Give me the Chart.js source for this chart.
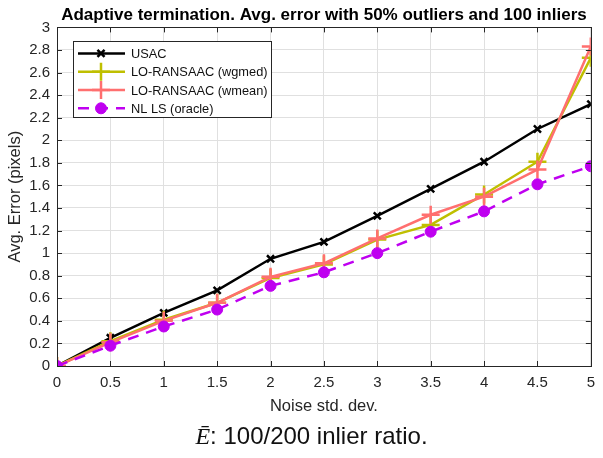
<!DOCTYPE html>
<html>
<head>
<meta charset="utf-8">
<script src="https://cdn.jsdelivr.net/npm/chart.js@4/dist/chart.umd.min.js"></script>
<style>
  html, body { margin: 0; padding: 0; background: #fff; }
  #wrap { position: relative; width: 603px; height: 458px; }
  #caption {
    position: absolute; left: 10px; width: 603px; top: 422px;
    text-align: center; font: 24px "Liberation Sans", Arial, sans-serif; color: #111;
  }
  #caption i { font-family: "Liberation Serif", serif; }
</style>
</head>
<body>
<div id="wrap">
  <canvas id="c" width="603" height="458"></canvas>
  <div id="caption"><i>&#274;</i>: 100/200 inlier ratio.</div>
</div>
<script>
// ── data ─────────────────────────────
const noise     = [0, 0.5, 1, 1.5, 2, 2.5, 3, 3.5, 4, 4.5, 5];
const usac      = [0, 0.25, 0.47, 0.67, 0.95, 1.10, 1.33, 1.57, 1.81, 2.10, 2.32];
const loWgmed   = [0, 0.22, 0.41, 0.56, 0.78, 0.90, 1.12, 1.25, 1.52, 1.81, 2.73];
const loWmean   = [0, 0.21, 0.40, 0.56, 0.79, 0.91, 1.13, 1.34, 1.50, 1.74, 2.83];
const nlls      = [0, 0.18, 0.35, 0.50, 0.71, 0.83, 1.00, 1.19, 1.37, 1.61, 1.77];
const seriesNames = ['USAC', 'LO-RANSAAC (wgmed)', 'LO-RANSAAC (wmean)', 'NL LS (oracle)'];
const xTicks = { min: 0, max: 5, step: 0.5 };
const yTicks = { min: 0, max: 3, step: 0.2 };

const FONT = '"Liberation Sans", Arial, Helvetica, sans-serif';
const AXIS = '#262626';

const pts = ys => ys.map((y, i) => ({ x: noise[i], y }));

// MATLAB-like box with inward ticks + legend inside the axes
const boxPlugin = {
  id: 'box',
  afterLayout(chart) {
    // centre the title over the axes, like MATLAB
    const tb = chart.titleBlock;
    if (tb) { tb.left = chart.chartArea.left; tb.right = chart.chartArea.right; }
  },
  afterDatasetsDraw(chart) {
    const { ctx, chartArea: a, scales: { x, y } } = chart;
    ctx.save();
    ctx.strokeStyle = AXIS;
    ctx.lineWidth = 1;
    ctx.beginPath();
    x.ticks.forEach(t => {
      const px = Math.round(x.getPixelForValue(t.value)) + 0.5;
      ctx.moveTo(px, a.bottom); ctx.lineTo(px, a.bottom - 5);
      ctx.moveTo(px, a.top);    ctx.lineTo(px, a.top + 5);
    });
    y.ticks.forEach(t => {
      const py = Math.round(y.getPixelForValue(t.value)) + 0.5;
      ctx.moveTo(a.left, py);  ctx.lineTo(a.left + 5, py);
      ctx.moveTo(a.right, py); ctx.lineTo(a.right - 5, py);
    });
    ctx.stroke();
    ctx.strokeRect(Math.round(a.left) + 0.5, Math.round(a.top) + 0.5,
                   Math.round(a.right - a.left), Math.round(a.bottom - a.top));

    // legend
    const lx = a.left + 16, ly = a.top + 14, lw = 198, rowH = 18.3;
    const ds = chart.data.datasets;
    const lh = rowH * ds.length + 3;
    ctx.fillStyle = '#fff';
    ctx.fillRect(lx, ly, lw, lh);
    ctx.strokeStyle = '#262626';
    ctx.strokeRect(Math.round(lx) + 0.5, Math.round(ly) + 0.5, lw, Math.round(lh));
    ctx.font = '12.8px ' + FONT;
    ctx.textBaseline = 'middle';
    ds.forEach((d, i) => {
      const cy = ly + 12 + i * rowH;
      ctx.save();
      ctx.strokeStyle = d.borderColor;
      ctx.lineWidth = d.borderWidth;
      ctx.setLineDash(d.borderDash || []);
      ctx.beginPath(); ctx.moveTo(lx + 5, cy); ctx.lineTo(lx + 52, cy); ctx.stroke();
      ctx.setLineDash([]);
      ctx.fillStyle = d.pointBackgroundColor;
      ctx.strokeStyle = d.pointBorderColor;
      ctx.lineWidth = d.pointBorderWidth;
      Chart.helpers.drawPoint(ctx, { pointStyle: d.pointStyle, radius: d.pointRadius, borderWidth: d.pointBorderWidth, rotation: 0 }, lx + 28, cy);
      ctx.restore();
      ctx.fillStyle = '#111';
      ctx.fillText(d.label, lx + 58, cy + 1);
    });
    ctx.restore();
  }
};

new Chart(document.getElementById('c'), {
  type: 'line',
  data: {
    datasets: [
      { label: seriesNames[0], data: pts(usac), borderColor: '#000', borderWidth: 2.5,
        pointStyle: 'crossRot', pointRadius: 5, pointBorderWidth: 2.5,
        pointBorderColor: '#000', pointBackgroundColor: '#000', order: 4 },
      { label: seriesNames[1], data: pts(loWgmed), borderColor: '#bfbf00', borderWidth: 2.5,
        pointStyle: 'cross', pointRadius: 9, pointBorderWidth: 2.5,
        pointBorderColor: '#bfbf00', pointBackgroundColor: '#bfbf00', order: 3 },
      { label: seriesNames[2], data: pts(loWmean), borderColor: '#ff6f6f', borderWidth: 2.5,
        pointStyle: 'cross', pointRadius: 9, pointBorderWidth: 2.5,
        pointBorderColor: '#ff6f6f', pointBackgroundColor: '#ff6f6f', order: 2 },
      { label: seriesNames[3], data: pts(nlls), borderColor: '#bf00f0', borderWidth: 2.5,
        borderDash: [11, 8],
        pointStyle: 'circle', pointRadius: 5.5, pointBorderWidth: 1,
        pointBorderColor: '#bf00f0', pointBackgroundColor: '#bf00f0', order: 1 }
    ]
  },
  options: {
    responsive: false,
    animation: false,
    layout: { padding: { left: 0, right: 6, top: 0, bottom: 38 } },
    plugins: {
      legend: { display: false },
      tooltip: { enabled: false },
      title: {
        display: true,
        text: 'Adaptive termination. Avg. error with 50% outliers and 100 inliers',
        color: '#000',
        font: { family: FONT, size: 17, weight: 'bold' },
        padding: { top: 5, bottom: 2 }
      }
    },
    scales: {
      x: {
        type: 'linear', min: xTicks.min, max: xTicks.max,
        afterFit: s => { s.height = 54; },
        grid: { color: '#e0e0e0', drawTicks: false },
        border: { display: false },
        ticks: { stepSize: xTicks.step, color: AXIS, padding: 8,
                 font: { family: FONT, size: 15 },
                 callback: v => String(+v.toFixed(1)) },
        title: { display: true, text: 'Noise std. dev.', color: AXIS,
                 font: { family: FONT, size: 16.5 }, padding: { top: 2 } }
      },
      y: {
        min: yTicks.min, max: yTicks.max,
        afterFit: s => { s.width = 57; },
        grid: { color: '#e0e0e0', drawTicks: false },
        border: { display: false },
        ticks: { stepSize: yTicks.step, color: AXIS, padding: 7,
                 font: { family: FONT, size: 15 },
                 callback: v => String(+v.toFixed(1)) },
        title: { display: true, text: 'Avg. Error (pixels)', color: AXIS,
                 font: { family: FONT, size: 16.5 }, padding: { top: 6, bottom: 0 } }
      }
    }
  },
  plugins: [boxPlugin]
});
</script>
</body>
</html>
